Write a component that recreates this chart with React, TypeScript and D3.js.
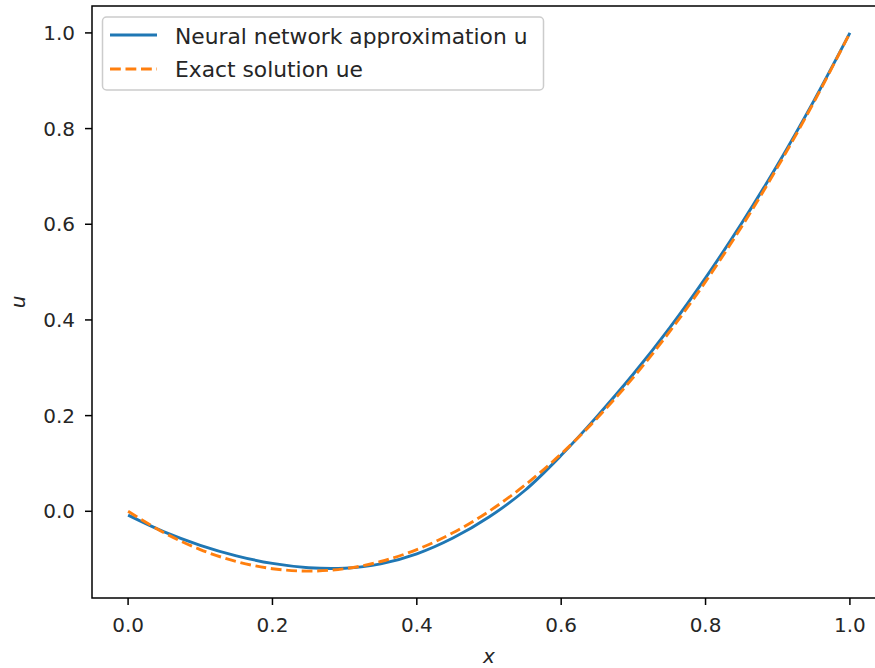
import React, { useMemo } from 'react';
import * as d3 from 'd3';

// sample points along x
const xs = [0, 0.05, 0.1, 0.15, 0.2, 0.25, 0.3, 0.35, 0.4, 0.45, 0.5, 0.55, 0.6, 0.65, 0.7, 0.75, 0.8, 0.85, 0.9, 0.95, 1.0];
const uNet = [-0.008, -0.043, -0.071, -0.093, -0.109, -0.118, -0.119, -0.11, -0.089, -0.056, -0.012, 0.044, 0.117, 0.199, 0.287, 0.383, 0.488, 0.602, 0.725, 0.858, 1.0];
const uExact = [0, -0.045, -0.08, -0.105, -0.12, -0.125, -0.12, -0.105, -0.08, -0.045, 0, 0.055, 0.12, 0.195, 0.28, 0.375, 0.48, 0.595, 0.72, 0.855, 1.0];
const xTicks = [0, 0.2, 0.4, 0.6, 0.8, 1.0];
const yTicks = [0, 0.2, 0.4, 0.6, 0.8, 1.0];
const seriesNames = ['Neural network approximation u', 'Exact solution ue'];

const W = 875;
const H = 668;
const FONT = '"DejaVu Sans", sans-serif';
const FS = 20; // tick + axis labels
const LFS = 21.8; // legend

export default function App() {
    const x = useMemo(() => d3.scaleLinear().domain([-0.05, 1.05]).range([92, 886]), []);
    const y = useMemo(() => d3.scaleLinear().domain([-0.18125, 1.05625]).range([598, 6]), []);

    const line = d3
        .line<[number, number]>()
        .x((d) => x(d[0]))
        .y((d) => y(d[1]))
        .curve(d3.curveCatmullRom);

    const netPath = line(xs.map((v, i) => [v, uNet[i]]))!;
    const exactPath = line(xs.map((v, i) => [v, uExact[i]]))!;

    const [x0, x1] = x.range();
    const [yb, yt] = y.range();

    return (
        <svg
            width={W}
            height={H}
            style={{ position: 'fixed', left: 0, top: 0, background: '#fff' }}
            fontFamily={FONT}
        >
            <defs>
                <clipPath id="plot">
                    <rect x={x0} y={yt} width={x1 - x0} height={yb - yt} />
                </clipPath>
            </defs>

            {/* curves */}
            <g clipPath="url(#plot)" fill="none">
                <path d={netPath} stroke="#1f77b4" strokeWidth={2.9} />
                <path d={exactPath} stroke="#ff7f0e" strokeWidth={2.9} strokeDasharray="10.8 4.7" />
            </g>

            {/* spines */}
            <rect x={x0} y={yt} width={x1 - x0} height={yb - yt} fill="none" stroke="#000" strokeWidth={1.5} />

            {/* x axis */}
            {xTicks.map((t) => (
                <g key={`x${t}`} transform={`translate(${x(t)},0)`}>
                    <line y1={yb} y2={yb + 7} stroke="#000" strokeWidth={1.5} />
                    <text y={632} textAnchor="middle" fontSize={FS} fill="#262626">
                        {t.toFixed(1)}
                    </text>
                </g>
            ))}

            {/* y axis */}
            {yTicks.map((t) => (
                <g key={`y${t}`} transform={`translate(0,${y(t)})`}>
                    <line x1={x0 - 7} x2={x0} stroke="#000" strokeWidth={1.5} />
                    <text x={75} dy="0.35em" textAnchor="end" fontSize={FS} fill="#262626">
                        {t.toFixed(1)}
                    </text>
                </g>
            ))}

            {/* axis labels */}
            <text x={(x0 + x1) / 2} y={663} textAnchor="middle" fontSize={FS} fontStyle="italic" fill="#262626">
                x
            </text>
            <text
                transform={`translate(25,${(yb + yt) / 2}) rotate(-90)`}
                textAnchor="middle"
                fontSize={FS}
                fontStyle="italic"
                fill="#262626"
            >
                u
            </text>

            {/* legend */}
            <g>
                <rect x={102.5} y={17} width={441} height={73} rx={4} fill="#fff" fillOpacity={0.8} stroke="#cccccc" strokeWidth={1.5} />
                <line x1={110} x2={157} y1={35} y2={35} stroke="#1f77b4" strokeWidth={2.9} />
                <line x1={110} x2={157} y1={69} y2={69} stroke="#ff7f0e" strokeWidth={2.9} strokeDasharray="10.8 4.7" />
                <text x={175} y={44} fontSize={LFS} fill="#262626">{seriesNames[0]}</text>
                <text x={175} y={77} fontSize={LFS} fill="#262626">{seriesNames[1]}</text>
            </g>
        </svg>
    );
}
